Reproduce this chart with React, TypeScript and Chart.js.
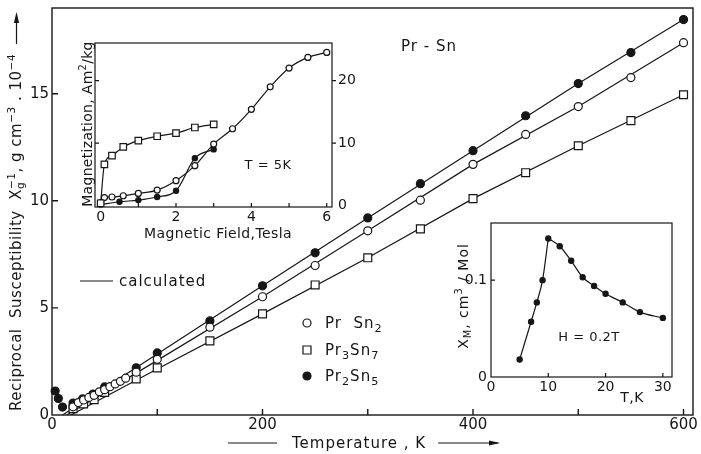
import React, { useEffect, useRef } from 'react';
import { Chart, registerables } from 'chart.js';

Chart.register(...registerables);

const W = 701;
const H = 454;
const INK = '#161616';
const FONT = '"DejaVu Sans", "Liberation Sans", sans-serif';

// ---------- main plot: reciprocal susceptibility vs temperature ----------
const tempPrSn2 = [20, 25, 30, 35, 40, 45, 50, 55, 60, 65, 70, 80, 100, 150, 200, 250, 300, 350, 400, 450, 500, 550, 600];
const chiPrSn2 = [0.38, 0.58, 0.7, 0.82, 0.92, 1.08, 1.18, 1.32, 1.45, 1.57, 1.72, 2.0, 2.6, 4.1, 5.52, 6.98, 8.6, 10.03, 11.7, 13.1, 14.4, 15.75, 17.38];
const tempPr3Sn7 = [20, 30, 40, 50, 80, 100, 150, 200, 250, 300, 350, 400, 450, 500, 550, 600];
const chiPr3Sn7 = [0.3, 0.52, 0.72, 1.05, 1.68, 2.2, 3.46, 4.72, 6.07, 7.34, 8.69, 10.1, 11.31, 12.57, 13.74, 14.95];
const tempPr2Sn5 = [3, 6, 10, 20, 29, 39, 50, 80, 100, 150, 200, 250, 300, 350, 400, 450, 500, 550, 600];
const chiPr2Sn5 = [1.12, 0.77, 0.37, 0.56, 0.75, 0.98, 1.31, 2.2, 2.9, 4.39, 6.03, 7.57, 9.2, 10.8, 12.34, 13.97, 15.47, 16.92, 18.46];

// calculated curves
const calcTempPrSn2 = [14, 100, 200, 300, 400, 500, 600];
const calcPrSn2 = [0, 2.55, 5.52, 8.6, 11.7, 14.4, 17.38];
const calcTempPr3Sn7 = [18, 100, 200, 300, 400, 500, 600];
const calcPr3Sn7 = [0, 2.15, 4.72, 7.34, 10.1, 12.57, 14.95];
const calcTempPr2Sn5 = [10, 100, 200, 300, 400, 500, 600];
const calcPr2Sn5 = [0, 2.85, 6.03, 9.2, 12.34, 15.47, 18.46];

const mainXLabels = [0, 200, 400, 600];
const mainYLabels = [0, 5, 10, 15];
const mainXTicks = [100, 200, 300, 400, 500, 600];
const mainYTicks = [5, 10, 15];

// ---------- inset 1: magnetization vs field, T = 5 K ----------
const fieldPr3Sn7 = [0, 0.1, 0.3, 0.6, 1, 1.5, 2, 2.5, 3];
const magPr3Sn7 = [0.4, 6.6, 8.0, 9.4, 10.4, 11.1, 11.6, 12.5, 13.0];
const fieldPrSn2 = [0, 0.1, 0.3, 0.6, 1, 1.5, 2, 2.5, 3, 3.5, 4, 4.5, 5, 5.5, 6];
const magPrSn2 = [0.5, 1.3, 1.4, 1.6, 1.97, 2.5, 4.0, 6.4, 9.85, 12.3, 15.4, 19.0, 22.0, 23.7, 24.5];
const fieldPr2Sn5 = [0, 0.5, 1, 1.5, 2, 2.5, 3];
const magPr2Sn5 = [0.2, 0.64, 0.9, 1.4, 2.4, 7.6, 9.0];

const magXLabels = [0, 2, 4, 6];
const magYLabels = [0, 10, 20];
const magXTicks = [1, 2, 3, 4, 5, 6];
const magYTicks = [10, 20];

// ---------- inset 2: molar susceptibility of Pr2Sn5, H = 0.2 T ----------
const tempChiM = [5, 7, 8, 9, 10, 12, 14, 16, 18, 20, 23, 26, 30];
const chiM = [0.018, 0.057, 0.077, 0.1, 0.143, 0.135, 0.12, 0.103, 0.094, 0.086, 0.077, 0.067, 0.061];

const chiXLabels = [0, 10, 20, 30];
const chiYLabels = [0, 0.1];
const chiXTicks = [10, 20, 30];
const chiYTicks = [0.1];

const zip = (xs: number[], ys: number[]) => xs.map((x, i) => ({ x, y: ys[i] }));

type Seg = { t: string; k?: number; dy?: number; stack?: boolean };

function drawRich(
  ctx: CanvasRenderingContext2D,
  segs: Seg[],
  x: number,
  y: number,
  size: number,
  o: { align?: 'left' | 'center' | 'right'; rot?: number; sp?: number } = {}
) {
  ctx.save();
  ctx.translate(x, y);
  if (o.rot) ctx.rotate(o.rot);
  (ctx as any).letterSpacing = `${o.sp ?? 0}px`;
  let w = 0;
  const pos: number[] = [];
  for (const s of segs) {
    ctx.font = `${size * (s.k ?? 1)}px ${FONT}`;
    pos.push(w);
    if (!s.stack) w += ctx.measureText(s.t).width;
  }
  const x0 = o.align === 'center' ? -w / 2 : o.align === 'right' ? -w : 0;
  ctx.fillStyle = INK;
  ctx.textAlign = 'left';
  ctx.textBaseline = 'alphabetic';
  segs.forEach((s, i) => {
    ctx.font = `${size * (s.k ?? 1)}px ${FONT}`;
    ctx.fillText(s.t, x0 + pos[i], -(s.dy ?? 0));
  });
  ctx.restore();
  return { start: x0, end: x0 + w };
}

function arrow(ctx: CanvasRenderingContext2D, x1: number, y1: number, x2: number, y2: number, head = true) {
  ctx.save();
  ctx.strokeStyle = INK;
  ctx.fillStyle = INK;
  ctx.lineWidth = 1.2;
  ctx.beginPath();
  ctx.moveTo(x1, y1);
  ctx.lineTo(x2, y2);
  ctx.stroke();
  if (head) {
    const a = Math.atan2(y2 - y1, x2 - x1);
    const L = 9;
    const hw = 2.6;
    ctx.beginPath();
    ctx.moveTo(x2 + Math.cos(a) * 2, y2 + Math.sin(a) * 2);
    ctx.lineTo(x2 - Math.cos(a) * L - Math.sin(a) * hw, y2 - Math.sin(a) * L + Math.cos(a) * hw);
    ctx.lineTo(x2 - Math.cos(a) * L + Math.sin(a) * hw, y2 - Math.sin(a) * L - Math.cos(a) * hw);
    ctx.closePath();
    ctx.fill();
  }
  ctx.restore();
}

function marker(ctx: CanvasRenderingContext2D, kind: 'open' | 'rect' | 'filled', x: number, y: number, r: number) {
  ctx.save();
  ctx.lineWidth = 1.2;
  ctx.strokeStyle = INK;
  ctx.beginPath();
  if (kind === 'rect') ctx.rect(x - r, y - r, 2 * r, 2 * r);
  else ctx.arc(x, y, r, 0, Math.PI * 2);
  ctx.fillStyle = kind === 'filled' ? INK : '#fff';
  ctx.fill();
  ctx.stroke();
  ctx.restore();
}

function framePlugin(
  id: string,
  o: { xTicks: number[]; yLeft: number[]; yRight?: number[]; len: number; lw: number; extra?: (c: any) => void }
) {
  return {
    id,
    afterDraw(chart: any) {
      const { ctx, chartArea: a, scales } = chart;
      ctx.save();
      ctx.strokeStyle = INK;
      ctx.lineWidth = o.lw;
      ctx.strokeRect(a.left, a.top, a.right - a.left, a.bottom - a.top);
      ctx.beginPath();
      for (const v of o.xTicks) {
        const p = scales.x.getPixelForValue(v);
        ctx.moveTo(p, a.bottom);
        ctx.lineTo(p, a.bottom - o.len);
      }
      for (const v of o.yLeft) {
        const p = scales.y.getPixelForValue(v);
        ctx.moveTo(a.left, p);
        ctx.lineTo(a.left + o.len, p);
      }
      for (const v of o.yRight ?? []) {
        const p = scales.y.getPixelForValue(v);
        ctx.moveTo(a.right, p);
        ctx.lineTo(a.right + o.len, p);
      }
      ctx.stroke();
      ctx.restore();
      if (o.extra) o.extra(chart);
    },
  };
}

const pts = (radius: number, style: string, fill: string) => ({
  showLine: false,
  pointStyle: style,
  pointRadius: radius,
  pointBackgroundColor: fill,
  pointBorderColor: INK,
  pointBorderWidth: 1.2,
  clip: false as any,
});

const lineDs = (data: { x: number; y: number }[], extra: any = {}) => ({
  data,
  showLine: true,
  pointRadius: 0,
  borderColor: INK,
  borderWidth: 1.2,
  backgroundColor: 'transparent',
  tension: 0,
  ...extra,
});

function axis(
  min: number,
  max: number,
  labels: number[],
  fit: (s: any) => void,
  size: number,
  pad: number,
  extra: any = {},
  lineHeight = 1
) {
  return {
    type: 'linear',
    min,
    max,
    afterFit: fit,
    afterBuildTicks: (s: any) => {
      s.ticks = labels.map((v) => ({ value: v }));
    },
    border: { display: false },
    grid: { display: false, drawTicks: false },
    ticks: {
      autoSkip: false,
      maxRotation: 0,
      minRotation: 0,
      padding: pad,
      color: INK,
      font: { family: FONT, size, lineHeight },
      callback: (v: number) => String(v),
    },
    ...extra,
  };
}

function mainConfig(): any {
  return {
    type: 'scatter',
    data: {
      datasets: [
        { label: 'Pr Sn2', data: zip(tempPrSn2, chiPrSn2), ...pts(4, 'circle', '#fff') },
        { label: 'Pr3Sn7', data: zip(tempPr3Sn7, chiPr3Sn7), ...pts(5.6, 'rect', '#fff') },
        { label: 'Pr2Sn5', data: zip(tempPr2Sn5, chiPr2Sn5), ...pts(4, 'circle', INK) },
        { label: 'calc PrSn2', ...lineDs(zip(calcTempPrSn2, calcPrSn2)) },
        { label: 'calc Pr3Sn7', ...lineDs(zip(calcTempPr3Sn7, calcPr3Sn7)) },
        { label: 'calc Pr2Sn5', ...lineDs(zip(calcTempPr2Sn5, calcPr2Sn5)) },
      ],
    },
    options: {
      animation: false,
      responsive: false,
      devicePixelRatio: 1,
      events: [],
      layout: { padding: { left: 0, top: 8, right: 8, bottom: 0 } },
      plugins: { legend: { display: false }, tooltip: { enabled: false } },
      scales: {
        x: axis(0, 609, mainXLabels, (s: any) => { s.height = 39; }, 15, 3),
        y: axis(0, 19, mainYLabels, (s: any) => { s.width = 52; }, 15, 3, {}, 0.5),
      },
    },
    plugins: [
      framePlugin('mainFrame', {
        xTicks: mainXTicks,
        yLeft: mainYTicks,
        len: 6,
        lw: 1.4,
        extra: (chart: any) => {
          const ctx: CanvasRenderingContext2D = chart.ctx;
          // compound label
          drawRich(ctx, [{ t: 'Pr - Sn' }], 401, 51, 15, { sp: 1 });
          // calculated key
          arrow(ctx, 80, 281, 113, 281, false);
          drawRich(ctx, [{ t: 'calculated' }], 119, 286, 15, { sp: 1 });
          // legend
          marker(ctx, 'open', 307, 323, 4);
          drawRich(ctx, [{ t: 'Pr  Sn' }, { t: '2', k: 0.75, dy: -4 }], 325, 328, 15, { sp: 1 });
          marker(ctx, 'rect', 307, 350, 4);
          drawRich(ctx, [{ t: 'Pr' }, { t: '3', k: 0.75, dy: -4 }, { t: 'Sn' }, { t: '7', k: 0.75, dy: -4 }], 325, 355, 15, { sp: 1 });
          marker(ctx, 'filled', 307, 376, 4);
          drawRich(ctx, [{ t: 'Pr' }, { t: '2', k: 0.75, dy: -4 }, { t: 'Sn' }, { t: '5', k: 0.75, dy: -4 }], 325, 381, 15, { sp: 1 });
          // x axis title
          arrow(ctx, 228, 443, 277, 443, false);
          const xt = drawRich(ctx, [{ t: 'Temperature , K' }], 292, 448, 15, { sp: 1 });
          arrow(ctx, 292 + xt.end + 12, 443, 498, 443, true);
          // y axis title (rotated)
          const yx = 21;
          const yy = 411;
          const yt = drawRich(
            ctx,
            [
              { t: 'Reciprocal  Susceptibility  X' },
              { t: 'g', k: 0.7, dy: -3, stack: true },
              { t: '−1', k: 0.7, dy: 6 },
              { t: ', g cm' },
              { t: '−3', k: 0.7, dy: 6 },
              { t: ' . 10' },
              { t: '−4', k: 0.7, dy: 6 },
            ],
            yx,
            yy,
            15,
            { rot: -Math.PI / 2, sp: 0.5 }
          );
          arrow(ctx, yx - 4.5, yy - yt.end - 10, yx - 4.5, Math.min(yy - yt.end - 40, 18), true);
        },
      }),
    ],
  };
}

function magConfig(): any {
  return {
    type: 'scatter',
    data: {
      datasets: [
        { label: 'Pr3Sn7', data: zip(fieldPr3Sn7, magPr3Sn7), ...pts(4.6, 'rect', '#fff') },
        { label: 'PrSn2', data: zip(fieldPrSn2, magPrSn2), ...pts(3, 'circle', '#fff') },
        { label: 'Pr2Sn5', data: zip(fieldPr2Sn5, magPr2Sn5), ...pts(2.6, 'circle', INK) },
        { label: 'l1', ...lineDs(zip(fieldPr3Sn7, magPr3Sn7), { cubicInterpolationMode: 'monotone' }) },
        { label: 'l2', ...lineDs(zip(fieldPrSn2, magPrSn2), { cubicInterpolationMode: 'monotone' }) },
        { label: 'l3', ...lineDs(zip(fieldPr2Sn5, magPr2Sn5), { cubicInterpolationMode: 'monotone' }) },
      ],
    },
    options: {
      animation: false,
      responsive: false,
      devicePixelRatio: 1,
      events: [],
      layout: { padding: { left: 95, top: 43, right: 0, bottom: 0 } },
      plugins: { legend: { display: false }, tooltip: { enabled: false } },
      scales: {
        x: axis(-0.15, 6.14, magXLabels, (s: any) => { s.height = H - 207; }, 14, 3),
        y: axis(-0.2, 26, magYLabels, (s: any) => { s.width = W - 332; }, 14, 6, { position: 'right' }),
      },
    },
    plugins: [
      framePlugin('magFrame', {
        xTicks: magXTicks,
        yLeft: magYTicks,
        yRight: magYTicks,
        len: 4,
        lw: 1.2,
        extra: (chart: any) => {
          const ctx: CanvasRenderingContext2D = chart.ctx;
          drawRich(ctx, [{ t: 'T = 5K' }], 268, 169, 13, { align: 'center', sp: 0.5 });
          drawRich(ctx, [{ t: 'Magnetic Field,Tesla' }], 218, 238, 14, { align: 'center', sp: 0.4 });
          drawRich(
            ctx,
            [{ t: 'Magnetization, Am' }, { t: '2', k: 0.7, dy: 6 }, { t: '/kg' }],
            92,
            124,
            14,
            { align: 'center', rot: -Math.PI / 2, sp: 0.3 }
          );
        },
      }),
    ],
  };
}

function chiConfig(): any {
  const peak = chiM.indexOf(Math.max(...chiM));
  const all = zip(tempChiM, chiM);
  return {
    type: 'scatter',
    data: {
      datasets: [
        { label: 'Pr2Sn5', data: all, ...pts(2.6, 'circle', INK) },
        { label: 'rise', ...lineDs(all.slice(0, peak + 1), { cubicInterpolationMode: 'monotone' }) },
        { label: 'fall', ...lineDs(all.slice(peak), { cubicInterpolationMode: 'monotone' }) },
      ],
    },
    options: {
      animation: false,
      responsive: false,
      devicePixelRatio: 1,
      events: [],
      layout: { padding: { left: 0, top: 223, right: W - 672, bottom: 0 } },
      plugins: { legend: { display: false }, tooltip: { enabled: false } },
      scales: {
        x: axis(0, 31.6, chiXLabels, (s: any) => { s.height = H - 377; }, 14, 3),
        y: axis(0, 0.159, chiYLabels, (s: any) => { s.width = 491; }, 14, 4),
      },
    },
    plugins: [
      framePlugin('chiFrame', {
        xTicks: chiXTicks,
        yLeft: chiYTicks,
        len: 4,
        lw: 1.2,
        extra: (chart: any) => {
          const ctx: CanvasRenderingContext2D = chart.ctx;
          drawRich(ctx, [{ t: 'H = 0.2T' }], 589, 341, 13, { align: 'center', sp: 0.5 });
          drawRich(ctx, [{ t: 'T,K' }], 632, 402, 14, { align: 'center', sp: 0.5 });
          drawRich(
            ctx,
            [{ t: 'X' }, { t: 'M', k: 0.7, dy: -3 }, { t: ', cm' }, { t: '3', k: 0.7, dy: 6 }, { t: ' / Mol' }],
            468,
            296,
            14,
            { align: 'center', rot: -Math.PI / 2, sp: 1 }
          );
        },
      }),
    ],
  };
}

export default function App() {
  const mainRef = useRef<HTMLCanvasElement>(null);
  const magRef = useRef<HTMLCanvasElement>(null);
  const chiRef = useRef<HTMLCanvasElement>(null);

  useEffect(() => {
    document.body.style.margin = '0';
    Chart.defaults.font.family = FONT;
    Chart.defaults.color = INK;
    const charts = [
      new Chart(mainRef.current as HTMLCanvasElement, mainConfig()),
      new Chart(magRef.current as HTMLCanvasElement, magConfig()),
      new Chart(chiRef.current as HTMLCanvasElement, chiConfig()),
    ];
    return () => charts.forEach((c) => c.destroy());
  }, []);

  const st: React.CSSProperties = { position: 'absolute', left: 0, top: 0, width: W, height: H, display: 'block' };
  return (
    <div style={{ position: 'relative', width: W, height: H, background: '#fff', overflow: 'hidden' }}>
      <canvas ref={mainRef} width={W} height={H} style={st} />
      <canvas ref={magRef} width={W} height={H} style={st} />
      <canvas ref={chiRef} width={W} height={H} style={st} />
    </div>
  );
}
